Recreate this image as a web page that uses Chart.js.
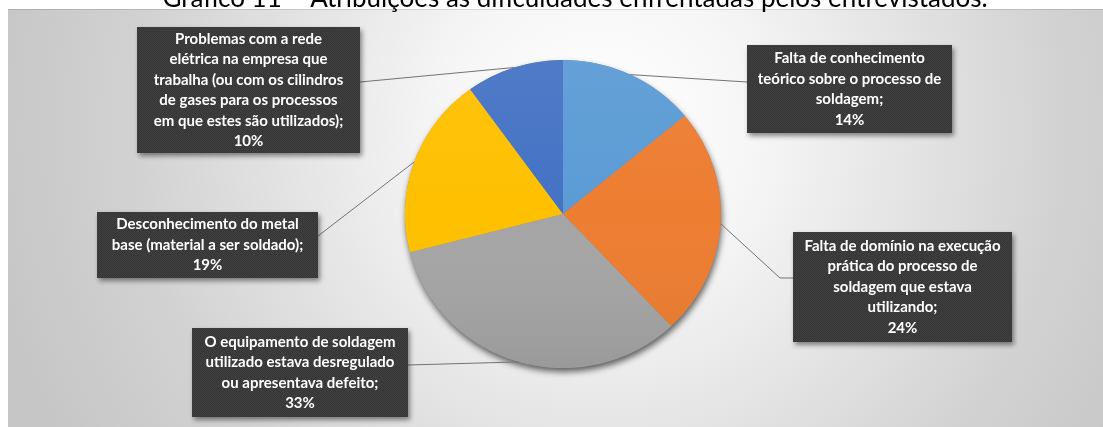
<!DOCTYPE html>
<html lang="pt-BR">
<head>
<meta charset="utf-8">
<title>Gráfico 11</title>
<script src="https://cdn.jsdelivr.net/npm/chart.js@4"></script>
<style>
  html, body { margin: 0; padding: 0; background: #fff; }
  #wrap { width: 1103px; height: 427px; }
</style>
</head>
<body>
<div id="wrap"><canvas id="grafico" width="1103" height="427"></canvas></div>
<script>
const titulo = 'Gráfico 11 – Atribuições às dificuldades enfrentadas pelos entrevistados.';

// categorias, já quebradas em linhas como aparecem nas caixas
const categorias = [
    ['Falta de conhecimento', 'teórico sobre o processo de', 'soldagem;'],
    ['Falta de domínio na execução', 'prática do processo de', 'soldagem que estava', 'utilizando;'],
    ['O equipamento de soldagem', 'utilizado estava desregulado', 'ou apresentava defeito;'],
    ['Desconhecimento do metal', 'base (material a ser soldado);'],
    ['Problemas com a rede', 'elétrica na empresa que', 'trabalha (ou com os cilindros', 'de gases para os processos', 'em que estes são utilizados);']
];
const percentuais = [14, 24, 33, 19, 10];
const cores = ['#5B9BD5', '#ED7D31', '#A5A5A5', '#FFC000', '#4472C4'];

// caixas dos rótulos: posição, tamanho e ponto onde chega a linha guia
const caixas = [
    { x: 747, y: 45,  w: 205, h: 88,  ax: 747, ay: 82 },
    { x: 793, y: 232, w: 219, h: 110, ax: 793, ay: 278, stub: 13 },
    { x: 192, y: 328, w: 216, h: 89,  ax: 408, ay: 365 },
    { x: 97,  y: 212, w: 221, h: 66,  ax: 318, ay: 236 },
    { x: 137, y: 27,  w: 223, h: 126, ax: 360, ay: 82 }
];

const achatamento = 0.975;  // leve perspectiva vertical da pizza

function padraoCaixa(ctx) {
    const c = document.createElement('canvas');
    c.width = 2; c.height = 2;
    const g = c.getContext('2d');
    g.fillStyle = '#3f3f3f';
    g.fillRect(0, 0, 2, 2);
    g.fillStyle = '#363636';
    g.fillRect(0, 0, 1, 1);
    g.fillRect(1, 1, 1, 1);
    return ctx.createPattern(c, 'repeat');
}

const fundo = {
    id: 'fundo',
    beforeDraw(chart) {
        const ctx = chart.ctx;
        ctx.save();
        ctx.fillStyle = '#ffffff';
        ctx.fillRect(0, 0, chart.width, chart.height);
        const grad = ctx.createRadialGradient(600, 130, 0, 600, 130, 620);
        grad.addColorStop(0, '#ffffff');
        grad.addColorStop(0.25, '#f6f6f6');
        grad.addColorStop(0.75, '#d2d2d2');
        grad.addColorStop(1, '#c6c6c6');
        ctx.fillStyle = grad;
        ctx.fillRect(8, 9, chart.width - 8, chart.height - 9);
        ctx.fillStyle = 'rgba(0,0,0,0.12)';
        ctx.fillRect(8, 9, chart.width - 8, 1);

        // título cortado pela borda superior
        ctx.fillStyle = '#000';
        ctx.font = '26px Lato, "Open Sans", sans-serif';
        ctx.textAlign = 'center';
        ctx.textBaseline = 'alphabetic';
        ctx.fillText(titulo, 575, 7);
        ctx.restore();
    },
    beforeDatasetsDraw(chart) {
        const ctx = chart.ctx;
        const arc = chart.getDatasetMeta(0).data[0];
        const { x, y, outerRadius } = arc.getProps(['x', 'y', 'outerRadius'], true);
        ctx.save();
        ctx.translate(x, y);
        ctx.scale(1, achatamento);
        ctx.translate(-x, -y);
        // sombra sob o disco
        ctx.save();
        ctx.shadowColor = 'rgba(0,0,0,0.6)';
        ctx.shadowBlur = 6;
        ctx.shadowOffsetX = 1;
        ctx.shadowOffsetY = 4;
        ctx.fillStyle = '#8a8a8a';
        ctx.beginPath();
        ctx.arc(x, y, outerRadius, 0, Math.PI * 2);
        ctx.fill();
        ctx.restore();
    },
    afterDatasetsDraw(chart) {
        const ctx = chart.ctx;
        const arc = chart.getDatasetMeta(0).data[0];
        const { x, y, outerRadius } = arc.getProps(['x', 'y', 'outerRadius'], true);
        // brilho suave por cima das fatias
        const luz = ctx.createLinearGradient(x, y - outerRadius, x, y + outerRadius);
        luz.addColorStop(0, 'rgba(255,255,255,0.06)');
        luz.addColorStop(0.5, 'rgba(255,255,255,0)');
        luz.addColorStop(1, 'rgba(0,0,0,0.07)');
        ctx.fillStyle = luz;
        ctx.beginPath();
        ctx.arc(x, y, outerRadius, 0, Math.PI * 2);
        ctx.fill();
        ctx.restore();
    }
};

const rotulos = {
    id: 'rotulos',
    afterDraw(chart) {
        const ctx = chart.ctx;
        const meta = chart.getDatasetMeta(0);
        const padrao = padraoCaixa(ctx);
        meta.data.forEach((arc, i) => {
            const p = arc.getProps(['x', 'y', 'startAngle', 'endAngle', 'outerRadius'], true);
            const meio = (p.startAngle + p.endAngle) / 2;
            const px = p.x + Math.cos(meio) * p.outerRadius;
            const py = p.y + Math.sin(meio) * p.outerRadius * achatamento;
            const cx = caixas[i];

            // linha guia
            ctx.save();
            ctx.strokeStyle = '#737373';
            ctx.lineWidth = 1;
            ctx.beginPath();
            ctx.moveTo(px, py);
            if (cx.stub) {
                const dir = cx.ax > px ? -1 : 1;
                ctx.lineTo(cx.ax + dir * cx.stub, cx.ay);
            }
            ctx.lineTo(cx.ax, cx.ay);
            ctx.stroke();
            ctx.restore();

            // caixa escura com sombra
            ctx.save();
            ctx.shadowColor = 'rgba(0,0,0,0.45)';
            ctx.shadowBlur = 5;
            ctx.shadowOffsetX = 2;
            ctx.shadowOffsetY = 3;
            ctx.fillStyle = padrao;
            ctx.fillRect(cx.x, cx.y, cx.w, cx.h);
            ctx.restore();

            // texto
            const linhas = categorias[i].concat([percentuais[i] + '%']);
            const alt = 20.5;
            const topo = cx.y + cx.h / 2 - (linhas.length * alt) / 2 + alt / 2;
            ctx.save();
            ctx.fillStyle = '#ffffff';
            ctx.font = 'bold 15px Lato, "Open Sans", sans-serif';
            ctx.textAlign = 'center';
            ctx.textBaseline = 'middle';
            linhas.forEach((t, k) => ctx.fillText(t, cx.x + cx.w / 2, topo + k * alt));
            ctx.restore();
        });
    }
};

new Chart(document.getElementById('grafico'), {
    type: 'pie',
    data: {
        labels: categorias.map(c => c.join(' ')),
        datasets: [{
            data: percentuais,
            backgroundColor: cores,
            borderWidth: 0
        }]
    },
    options: {
        responsive: false,
        animation: false,
        layout: { padding: { left: 405, right: 382, top: 56, bottom: 55 } },
        plugins: {
            legend: { display: false },
            tooltip: { enabled: false },
            title: { display: false }
        }
    },
    plugins: [fundo, rotulos]
});
</script>
</body>
</html>
